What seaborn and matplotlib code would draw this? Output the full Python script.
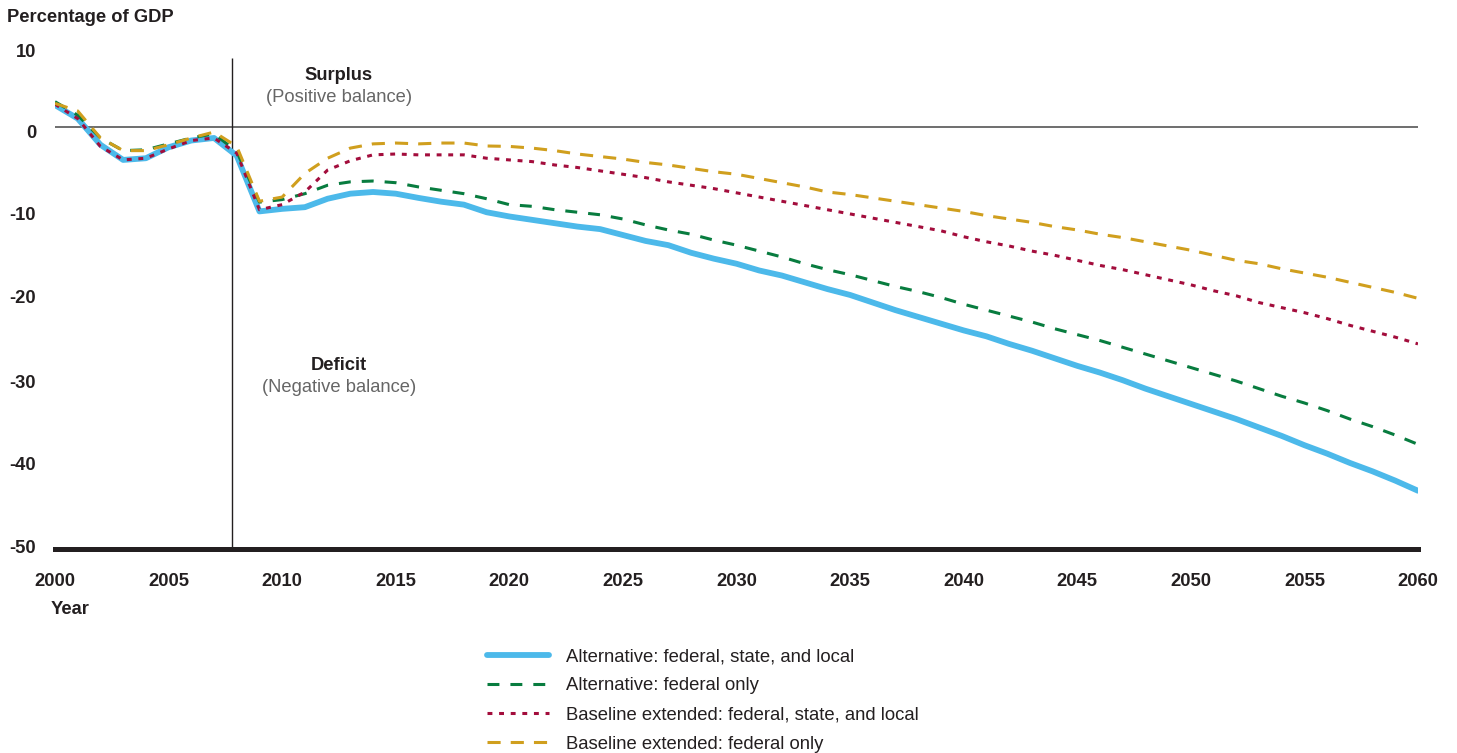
import numpy as np
import pandas as pd
import matplotlib
matplotlib.use("Agg")
import matplotlib.pyplot as plt
import seaborn as sns

# ---- data (percentage of GDP) ----
years = list(range(2000, 2061))

alt_fsl = [2.6, 1.0, -2.1, -3.9, -3.7, -2.4, -1.6, -1.3, -3.4, -10.0,
           -9.7, -9.5, -8.5, -7.9, -7.7, -7.9, -8.4, -8.85, -9.2, -10.1,
           -10.6, -11.0, -11.4, -11.8, -12.1, -12.8, -13.5, -14.0, -14.9, -15.6,
           -16.2, -17.0, -17.6, -18.4, -19.2, -19.9, -20.8, -21.7, -22.5, -23.3,
           -24.1, -24.8, -25.7, -26.5, -27.4, -28.3, -29.1, -30.0, -31.0, -31.9,
           -32.8, -33.7, -34.6, -35.6, -36.6, -37.7, -38.7, -39.8, -40.8, -41.9,
           -43.1]

alt_fed = [3.0, 1.4, -1.3, -2.8, -2.7, -2.0, -1.3, -0.8, -2.9, -8.9,
           -8.6, -7.9, -6.9, -6.5, -6.4, -6.6, -7.1, -7.5, -7.9, -8.5,
           -9.2, -9.4, -9.8, -10.1, -10.4, -10.9, -11.6, -12.2, -12.7, -13.4,
           -14.0, -14.7, -15.4, -16.2, -16.9, -17.5, -18.2, -18.9, -19.5, -20.2,
           -21.0, -21.7, -22.4, -23.1, -23.9, -24.6, -25.3, -26.1, -26.9, -27.7,
           -28.5, -29.3, -30.1, -31.0, -31.9, -32.7, -33.6, -34.6, -35.5, -36.5,
           -37.6]

base_fsl = [2.7, 1.0, -2.3, -3.9, -3.7, -2.6, -1.6, -1.3, -3.1, -9.8,
            -9.2, -7.7, -5.1, -4.0, -3.3, -3.2, -3.3, -3.3, -3.3, -3.7,
            -3.9, -4.1, -4.5, -4.8, -5.2, -5.6, -6.0, -6.5, -6.9, -7.3,
            -7.8, -8.3, -8.8, -9.3, -9.8, -10.3, -10.8, -11.3, -11.8, -12.3,
            -13.0, -13.6, -14.1, -14.7, -15.2, -15.8, -16.4, -16.9, -17.5, -18.1,
            -18.7, -19.4, -20.0, -20.8, -21.4, -22.0, -22.7, -23.5, -24.2, -24.9,
            -25.7]

base_fed = [2.8, 1.9, -1.3, -2.8, -2.8, -2.1, -1.3, -0.6, -2.3, -8.8,
            -8.3, -5.5, -3.7, -2.5, -2.0, -1.9, -2.0, -1.9, -1.9, -2.25,
            -2.3, -2.5, -2.8, -3.2, -3.5, -3.8, -4.2, -4.5, -4.9, -5.3,
            -5.6, -6.1, -6.6, -7.1, -7.7, -8.0, -8.4, -8.8, -9.2, -9.6,
            -10.0, -10.5, -10.9, -11.3, -11.8, -12.2, -12.7, -13.1, -13.6, -14.1,
            -14.6, -15.2, -15.8, -16.2, -16.8, -17.3, -17.8, -18.4, -19.0, -19.6,
            -20.3]

series_labels = ["Alternative: federal, state, and local",
                 "Alternative: federal only",
                 "Baseline extended: federal, state, and local",
                 "Baseline extended: federal only"]

x_ticks = list(range(2000, 2061, 5))
y_tick_labels = ["10", "0", "-10", "-20", "-30", "-40", "-50"]

# ---- styling ----
sns.set_theme(style="white")
plt.rcParams["font.family"] = ["Liberation Sans", "DejaVu Sans"]
TXT = "#231f20"

fig = plt.figure(figsize=(14.57, 7.53), dpi=100)
ax = fig.add_axes([55 / 1457, 1 - 549 / 753, (1418 - 55) / 1457, (549 - 42.6) / 753])

styles = [
    dict(color="#4cb9ea", linewidth=4.2, linestyle="-"),
    dict(color="#087c3f", linewidth=2.2, linestyle=(0, (3.9, 3.6))),
    dict(color="#a30d3c", linewidth=2.2, linestyle=(0, (1.6, 2.2))),
    dict(color="#d09f1e", linewidth=2.2, linestyle=(0, (4.3, 3.3))),
]

ax.axhline(0, color="#555555", linewidth=1.2, zorder=1)
ax.vlines(2007.8, -50, 8.2, color=TXT, linewidth=1.0, zorder=1)

for vals, lab, st in zip([alt_fsl, alt_fed, base_fsl, base_fed], series_labels, styles):
    sns.lineplot(x=years, y=vals, ax=ax, label=lab, zorder=3, **st)

ax.set_xlim(2000, 2060)
ax.set_ylim(-50, 10)
ax.set_xticks(x_ticks)
ax.set_xticklabels([str(t) for t in x_ticks], fontsize=13.2, fontweight="bold", color=TXT)
# labels sit a touch off the gridline values in the original artwork
ax.set_yticks([9.1, -0.5, -10.2, -20.1, -30.1, -39.9, -49.75])
ax.set_yticklabels(y_tick_labels, fontsize=13.2, fontweight="bold", color=TXT)
ax.tick_params(axis="x", length=0, pad=17.5)
ax.tick_params(axis="y", length=0, pad=13.5)
ax.set_xlabel("")
ax.set_ylabel("")

for side in ["top", "right", "left"]:
    ax.spines[side].set_visible(False)
ax.spines["bottom"].set_color(TXT)
ax.spines["bottom"].set_linewidth(3.6)

# annotations
ax.text(2012.5, 6.05, "Surplus", ha="center", va="center",
        fontsize=13.2, fontweight="bold", color=TXT)
ax.text(2012.5, 3.45, "(Positive balance)", ha="center", va="center",
        fontsize=13.2, color="#666666")
ax.text(2012.5, -28.25, "Deficit", ha="center", va="center",
        fontsize=13.2, fontweight="bold", color=TXT)
ax.text(2012.5, -30.85, "(Negative balance)", ha="center", va="center",
        fontsize=13.2, color="#666666")

fig.text(7 / 1457, 1 - 18 / 753, "Percentage of GDP", ha="left", va="center",
         fontsize=13.2, fontweight="bold", color=TXT)
fig.text(51 / 1457, 1 - 609 / 753, "Year", ha="left", va="center",
         fontsize=13.2, fontweight="bold", color=TXT)

ax.get_legend().remove()
handles, labels = ax.get_legend_handles_labels()
leg = fig.legend(handles, labels, loc="upper left",
                 bbox_to_anchor=(487 / 1457, 1 - 648 / 753),
                 frameon=False, fontsize=13.3, handlelength=3.35,
                 handletextpad=0.9, labelspacing=0.66,
                 borderpad=0, borderaxespad=0)
for t in leg.get_texts():
    t.set_color(TXT)

fig.savefig("out.png", dpi=100)
